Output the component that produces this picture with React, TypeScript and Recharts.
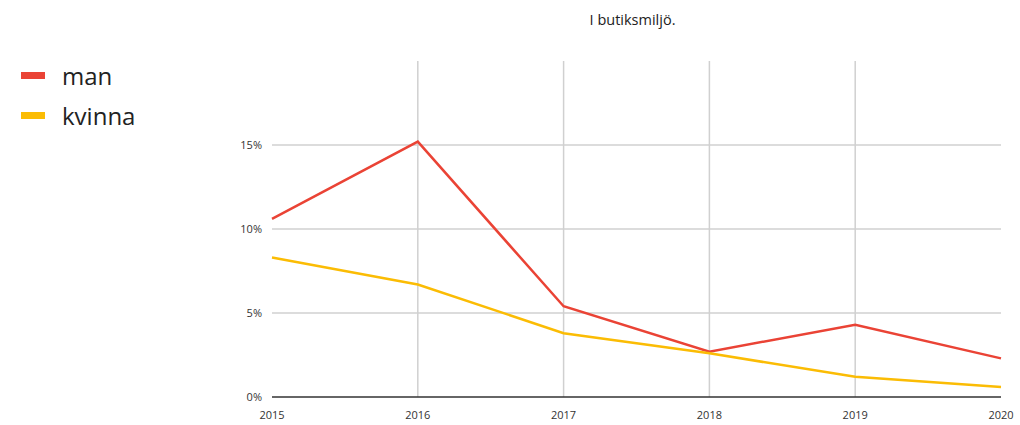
import React from 'react';
import { LineChart, Line, XAxis, YAxis, ReferenceLine } from 'recharts';

const years = [2015, 2016, 2017, 2018, 2019, 2020];
const manValues = [10.6, 15.2, 5.4, 2.7, 4.3, 2.3];
const kvinnaValues = [8.3, 6.7, 3.8, 2.6, 1.2, 0.6];
const yTicks = [0, 5, 10, 15];
const innerYears = [2016, 2017, 2018, 2019];
const gridValues = [5, 10, 15];

const series = [
  { key: 'man', label: 'man', color: '#EA4335' },
  { key: 'kvinna', label: 'kvinna', color: '#FBBC04' },
];

const chartData = years.map((year, i) => ({
  year,
  man: manValues[i],
  kvinna: kvinnaValues[i],
}));

const FONT = '"Open Sans", Lato, sans-serif';

const LegendBox = () => (
  <div style={{ position: 'absolute', left: 21, top: 55, fontFamily: FONT }}>
    {series.map(s => (
      <div key={s.key} style={{ display: 'flex', alignItems: 'center', height: 40 }}>
        <span style={{ display: 'inline-block', width: 24, height: 7, background: s.color, marginRight: 17 }} />
        <span style={{ fontSize: 24, color: '#222' }}>{s.label}</span>
      </div>
    ))}
  </div>
);

const App: React.FC = () => {
  return (
    <div style={{ position: 'absolute', left: 0, top: 0, width: 1020, height: 425, background: '#fff', fontFamily: FONT }}>
      <div
        style={{
          position: 'absolute',
          top: 10,
          left: 268,
          width: 729,
          textAlign: 'center',
          fontSize: 14.5,
          color: '#222',
        }}
      >
        I butiksmiljö.
      </div>
      <LegendBox />
      <LineChart width={1020} height={425} data={chartData} margin={{ top: 61, right: 19, bottom: 0, left: 0 }}>
        {gridValues.map(v => (
          <ReferenceLine key={`h${v}`} y={v} stroke="#d0d0d0" strokeWidth={1.5} />
        ))}
        {innerYears.map(y => (
          <ReferenceLine key={y} x={y} stroke="#d0d0d0" strokeWidth={1.5} />
        ))}
        <XAxis
          dataKey="year"
          type="number"
          domain={[2015, 2020]}
          ticks={years}
          height={28}
          tickSize={0}
          tickMargin={14}
          axisLine={{ stroke: '#333', strokeWidth: 1.5 }}
          tickLine={false}
          tick={{ fill: '#333', fontSize: 11, fontFamily: FONT }}
        />
        <YAxis
          domain={[0, 20]}
          ticks={yTicks}
          width={272}
          tickSize={0}
          tickMargin={10}
          axisLine={false}
          tickLine={false}
          tickFormatter={(v: number) => `${v}%`}
          tick={{ fill: '#333', fontSize: 11, fontFamily: FONT }}
        />
        {series.map(s => (
          <Line
            key={s.key}
            type="linear"
            dataKey={s.key}
            name={s.label}
            stroke={s.color}
            strokeWidth={2.5}
            dot={false}
            activeDot={false}
            isAnimationActive={false}
          />
        ))}
      </LineChart>
    </div>
  );
};

export default App;
